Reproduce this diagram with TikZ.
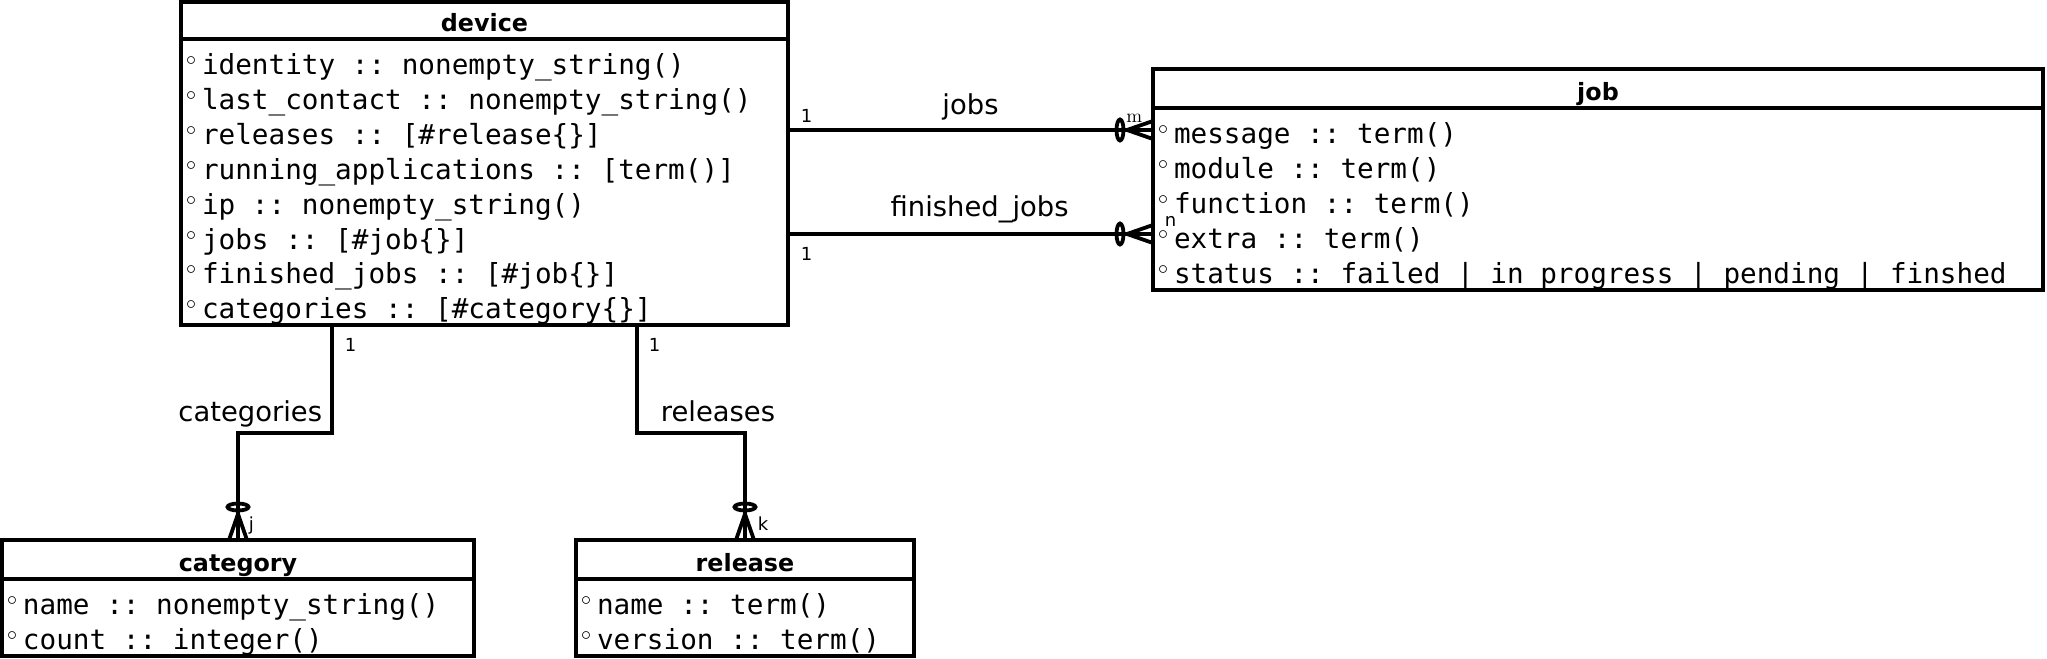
\documentclass[tikz,border=0pt]{standalone}
\usepackage{fontspec}
\setmonofont{DejaVu Sans Mono}
\newfontfamily\dejavu{DejaVu Sans}
\usetikzlibrary{positioning}

\newcommand{\attr}[1]{\spaceskip 0.602em\xspaceskip 0.602em\relax\makebox[8pt][l]{\raisebox{4.5pt}{\fontsize{10pt}{10pt}\selectfont$\circ$}}#1}
\newcommand{\up}{\rule{0pt}{17.75pt}}
\newcommand{\down}[1]{\rule[-#1]{0pt}{0pt}}

\begin{document}
\begin{tikzpicture}[
		x=0.5pt, y=-0.5pt,
		head/.style={draw, line width=1.8pt, anchor=north west, inner sep=0pt, outer sep=0pt, minimum height=19.5pt, text height=15.5pt, text depth=4pt, font=\dejavu\bfseries\fontsize{11.9pt}{14pt}\selectfont},
		body/.style={draw, line width=1.8pt, anchor=north west, inner xsep=2.5pt, inner ysep=0pt, outer sep=0pt, align=left, font=\ttfamily\fontsize{13.83pt}{17.45pt}\selectfont},
		rel/.style={line width=1.9pt},
		lbl/.style={inner sep=0pt, font=\dejavu\fontsize{13.7pt}{16pt}\selectfont},
		mult/.style={inner sep=0pt, font=\dejavu\fontsize{9pt}{11pt}\selectfont},
		zeromany/.pic={\draw[line width=1.9pt] (-26,0) -- (0,-9) (-26,0) -- (0,9) (-26,0) -- (0,0) (-33,0) ellipse [x radius=3.5, y radius=10.5];}
		]
		\useasboundingbox (0,0) rectangle (2047,659);
		
		% Entiteti
		\node[head, minimum width=303.5pt, minimum height=18.5pt, text height=14.5pt] (dhead) at (181,2) {device};
		\node[body, minimum width=303.5pt, text width=298.5pt, minimum height=142.5pt] (dbody) at (dhead.south west) {\up\attr{identity :: nonempty\_string()}\\ \attr{last\_contact :: nonempty\_string()}\\ \attr{releases :: [\#release\{\}]}\\ \attr{running\_applications :: [term()]}\\ \attr{ip :: nonempty\_string()}\\ \attr{jobs :: [\#job\{\}]}\\ \attr{finished\_jobs :: [\#job\{\}]}\\ \attr{categories :: [\#category\{\}]}\down{2.6pt}};
		
		\node[head, minimum width=445pt] (jhead) at (1153,69) {job};
		\node[body, minimum width=445pt, text width=440pt, minimum height=91pt] (jbody) at (jhead.south west) {\up\attr{message :: term()}\\ \attr{module :: term()}\\ \attr{function :: term()}\\ \attr{extra :: term()}\\ \attr{status :: failed | in\_progress | pending | finshed}\down{3.45pt}};
		
		\node[head, minimum width=236pt] (chead) at (2,540) {category};
		\node[body, minimum width=236pt, text width=231pt, minimum height=38.5pt] (cbody) at (chead.south west) {\up\attr{name :: nonempty\_string()}\\ \attr{count :: integer()}\down{3.3pt}};
		
		\node[head, minimum width=169pt] (rhead) at (576,540) {release};
		\node[body, minimum width=169pt, text width=164pt, minimum height=38.5pt] (rbody) at (rhead.south west) {\up\attr{name :: term()}\\ \attr{version :: term()}\down{3.3pt}};
		
		% Pomocne tacke
		\coordinate (jobsy) at (0,130);
		\coordinate (finy) at (0,234);
		\coordinate (catx) at (332,0);
		\coordinate (relx) at (637,0);
		\coordinate (bendy) at (0,433);
		
		% Veze
		\draw[rel] (dbody.east |- jobsy) -- node[lbl, above=4pt] {jobs} node[mult, pos=0, anchor=base west, xshift=5.5pt, yshift=4pt] {1} node[mult, pos=1, anchor=base east, xshift=-4.5pt, yshift=4pt, font=\rmfamily\fontsize{9.5pt}{11pt}\selectfont] {m} (jbody.west |- jobsy);
		\draw[rel] (dbody.east |- finy) -- node[lbl, above=4.5pt, pos=0.525] {finished\_jobs} node[mult, pos=0, anchor=base west, xshift=5.5pt, yshift=-13pt] {1} node[mult, pos=1, anchor=base west, xshift=5pt, yshift=4pt] {n} (jbody.west |- finy);
		\draw[rel] (dbody.south -| catx) -- node[lbl, pos=0.89, anchor=base east, xshift=-4pt] {categories} node[mult, pos=0, anchor=base west, xshift=5.5pt, yshift=-13.5pt] {1} (catx |- bendy) -| node[mult, pos=1, anchor=base west, xshift=4.5pt, yshift=5pt] {j} (chead.north);
		\draw[rel] (dbody.south -| relx) -- node[lbl, pos=0.89, anchor=base west, xshift=11pt] {releases} node[mult, pos=0, anchor=base west, xshift=5pt, yshift=-13.5pt] {1} (relx |- bendy) -| node[mult, pos=1, anchor=base west, xshift=5.5pt, yshift=5pt] {k} (rhead.north);
		
		% Kardinalnost
		\pic at (jbody.west |- jobsy) {zeromany};
		\pic at (jbody.west |- finy) {zeromany};
		\pic[rotate=-90] at (chead.north) {zeromany};
		\pic[rotate=-90] at (rhead.north) {zeromany};
		
	\end{tikzpicture}
\end{document}
